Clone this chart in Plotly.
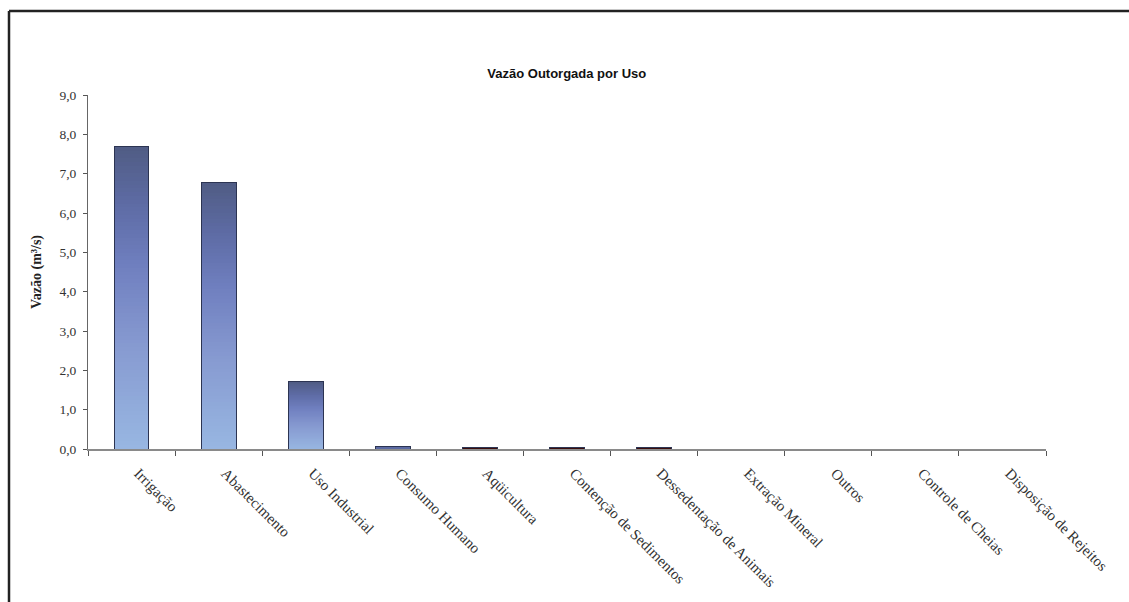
import plotly.graph_objects as go

# Outorgas de uso da água: vazão por finalidade (m³/s)
usos = [
    "Irrigação", "Abastecimento", "Uso Industrial", "Consumo Humano",
    "Aqüicultura", "Contenção de Sedimentos", "Dessedentação de Animais",
    "Extração Mineral", "Outros", "Controle de Cheias", "Disposição de Rejeitos",
]
vazao = [7.68, 6.77, 1.72, 0.07, 0.05, 0.05, 0.05, 0.0, 0.0, 0.0, 0.0]
y_ticks = [0, 1, 2, 3, 4, 5, 6, 7, 8, 9]
y_tick_text = ["0,0", "1,0", "2,0", "3,0", "4,0", "5,0", "6,0", "7,0", "8,0", "9,0"]

# gradient stops from the base (0) to the top (1) of each bar
grad_stops = [(0.0, (152, 183, 226)), (0.35, (134, 153, 208)),
              (0.6, (112, 128, 192)), (0.8, (94, 108, 166)), (1.0, (80, 92, 132))]
# bars too short to show a gradient get a flat colour instead
flat_fill = [None, None, None, "#5b6aa2", "#3b0d0d", "#3b0d0d", "#3b0d0d",
             "#3b0d0d", "#3b0d0d", "#3b0d0d", "#3b0d0d"]


def grad_color(t):
    for (p0, c0), (p1, c1) in zip(grad_stops[:-1], grad_stops[1:]):
        if p0 <= t <= p1:
            f = (t - p0) / (p1 - p0)
            r, g, b = (round(a + (bb - a) * f) for a, bb in zip(c0, c1))
            return f"rgb({r},{g},{b})"
    return "rgb(%d,%d,%d)" % grad_stops[-1][1]


N_SEG = 80
fig = go.Figure()
for k in range(N_SEG):
    t = (k + 0.5) / N_SEG
    colors = [flat_fill[i] if flat_fill[i] else grad_color(t) for i in range(len(usos))]
    fig.add_trace(go.Bar(
        x=usos, y=[v / N_SEG for v in vazao],
        marker=dict(color=colors, line=dict(width=0)),
        xaxis="x", yaxis="y", hoverinfo="skip", showlegend=False,
    ))

# outline of each bar drawn on an overlaid category axis
fig.add_trace(go.Bar(
    x=usos, y=vazao,
    marker=dict(color="rgba(0,0,0,0)", line=dict(color="#2c3452", width=1)),
    xaxis="x2", yaxis="y", showlegend=False,
    hovertemplate="%{x}: %{y:.2f} m³/s<extra></extra>",
))

serif = "Liberation Serif, DejaVu Serif, serif"
fig.update_layout(
    width=1129, height=602,
    paper_bgcolor="white", plot_bgcolor="white",
    margin=dict(l=88, r=83, t=95, b=153),
    barmode="stack", bargap=0.6,
    title=dict(text="<b>Vazão Outorgada por Uso</b>", x=0.502, xanchor="center",
               y=1 - 73 / 602, yanchor="middle",
               font=dict(family="Liberation Sans, Arial, sans-serif", size=13, color="#111")),
    xaxis=dict(
        type="category", categoryorder="array", categoryarray=usos,
        range=[-0.5, len(usos) - 0.5],
        showline=True, linecolor="#8a8a8a", linewidth=1.5,
        ticks="outside", tickson="boundaries", ticklen=5, tickcolor="#555",
        tickangle=45, ticklabelstandoff=8, ticklabelshift=7,
        tickfont=dict(family=serif, size=15, color="#333"),
        showgrid=False, zeroline=False,
    ),
    xaxis2=dict(
        type="category", categoryorder="array", categoryarray=usos,
        range=[-0.5, len(usos) - 0.5], overlaying="x", visible=False,
    ),
    yaxis=dict(
        range=[0, 9], tickvals=y_ticks, ticktext=y_tick_text,
        showline=True, linecolor="#666", linewidth=1,
        ticks="outside", ticklen=4, tickcolor="#555", ticklabelstandoff=4,
        tickfont=dict(family=serif, size=13.5, color="#333"),
        showgrid=False, zeroline=False,
        title=dict(text="<b>Vazão (m³/s)</b>", standoff=14,
                   font=dict(family=serif, size=14, color="#222")),
    ),
    shapes=[
        dict(type="line", xref="paper", yref="paper",
             x0=(9 - 88) / 958, x1=(1135 - 88) / 958,
             y0=(449 - 11) / 354, y1=(449 - 11) / 354,
             line=dict(color="#222", width=2.5)),
        dict(type="line", xref="paper", yref="paper",
             x0=(9 - 88) / 958, x1=(9 - 88) / 958,
             y0=(449 - 11) / 354, y1=(449 - 610) / 354,
             line=dict(color="#222", width=2.5)),
    ],
)

fig.write_html("out.html")
